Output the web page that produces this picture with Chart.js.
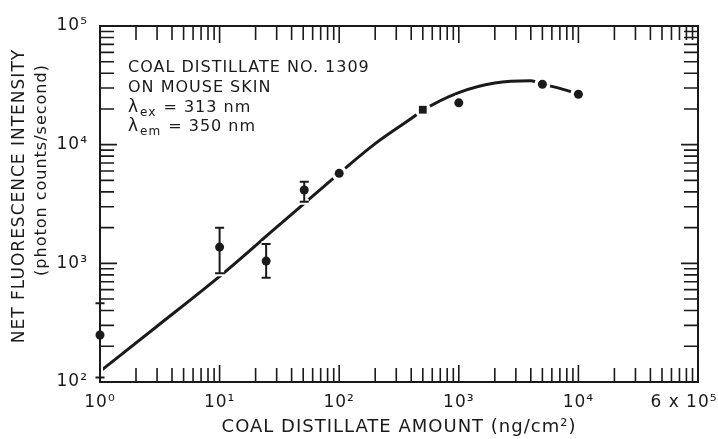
<!DOCTYPE html>
<html><head><meta charset="utf-8">
<script src="https://cdn.jsdelivr.net/npm/chart.js@4/dist/chart.umd.min.js"></script>
<style>html,body{margin:0;padding:0;background:#fff;}#wrap{width:718px;height:439px;}</style>
</head><body>
<div id="wrap"><canvas id="c" width="718" height="439"></canvas></div>
<script>
// ---- data ----
const xTickValues = [1, 10, 100, 1000, 10000, 100000];
const xTickLabels = ['10⁰', '10¹', '10²', '10³', '10⁴', '6 x 10⁵'];
const yTickValues = [100, 1000, 10000, 100000];
const yTickLabels = ['10²', '10³', '10⁴', '10⁵'];

const pointX = [1, 10, 24.5, 51, 100, 500, 1000, 5000, 10000];
const pointY = [249, 1370, 1045, 4150, 5730, 19700, 22500, 32300, 26600];
const errLow = [109, 824, 757, 3300, null, null, null, null, null];
const errHigh = [460, 1995, 1455, 4870, null, null, null, null, null];
const pointShapes = ['circle', 'circle', 'circle', 'circle', 'circle', 'rect', 'circle', 'circle', 'circle'];

const curveX = [1, 3, 10, 30, 50, 100, 200, 400, 500, 1000, 2000, 4000, 5000, 7000, 10000];
const curveY = [123, 295, 776, 2015, 3140, 5730, 10200, 16600, 19500, 27500, 33100, 34600, 32400, 29800, 26700];

const annotationLines = ['COAL DISTILLATE NO. 1309', 'ON MOUSE SKIN'];
const lambdaLines = [['ex', ' = 313 nm'], ['em', ' = 350 nm']];
const yTitleLines = ['NET FLUORESCENCE INTENSITY', '(photon counts/second)'];
const xTitle = 'COAL DISTILLATE AMOUNT (ng/cm²)';

// ---- drawing ----
const INK = '#1a1a1a';
const FONT = "'DejaVu Sans', sans-serif";
const TICK_FONT = 17;

const spacing = {
  id: 'spacing',
  beforeUpdate(chart) { chart.ctx.letterSpacing = '1px'; },
  beforeDraw(chart) { chart.ctx.letterSpacing = '1px'; }
};

const decor = {
  id: 'decor',
  afterDatasetDraw(chart, args) {
    if (args.index !== 0) return;
    const { ctx, scales: { x, y } } = chart;
    ctx.save();
    ctx.fillStyle = '#fff';
    pointX.forEach((v, i) => {
      ctx.beginPath();
      ctx.arc(x.getPixelForValue(v), y.getPixelForValue(pointY[i]), 8, 0, Math.PI * 2);
      ctx.fill();
    });
    pointX.forEach((v, i) => {
      if (errLow[i] == null) return;
      const px = x.getPixelForValue(v), yl = y.getPixelForValue(errLow[i]), yh = y.getPixelForValue(errHigh[i]);
      const path = () => {
        ctx.beginPath();
        ctx.moveTo(px, yl); ctx.lineTo(px, yh);
        ctx.moveTo(px - 4.5, yl); ctx.lineTo(px + 4.5, yl);
        ctx.moveTo(px - 4.5, yh); ctx.lineTo(px + 4.5, yh);
      };
      ctx.strokeStyle = '#fff'; ctx.lineWidth = 6; path(); ctx.stroke();
      ctx.strokeStyle = INK; ctx.lineWidth = 2; path(); ctx.stroke();
    });
    ctx.restore();
  },
  afterDraw(chart) {
    const { ctx, chartArea: a, scales: { x, y } } = chart;
    ctx.save();
    ctx.strokeStyle = INK;
    ctx.fillStyle = INK;
    ctx.lineWidth = 2;
    ctx.strokeRect(a.left, a.top, a.right - a.left, a.bottom - a.top);
    ctx.lineWidth = 1.6;
    ctx.beginPath();
    for (let k = 0; k <= 5; k++) {
      for (let m = 1; m <= 9; m++) {
        const v = m * Math.pow(10, k);
        if (v > x.max * 1.0001) break;
        const px = x.getPixelForValue(v);
        const len = m === 1 ? 17 : 14;
        ctx.moveTo(px, a.bottom); ctx.lineTo(px, a.bottom - len);
        ctx.moveTo(px, a.top); ctx.lineTo(px, a.top + len);
      }
    }
    for (let k = 2; k <= 5; k++) {
      for (let m = 1; m <= 9; m++) {
        const v = m * Math.pow(10, k);
        if (v > y.max * 1.0001) break;
        const py = y.getPixelForValue(v);
        const len = m === 1 ? 17 : 14;
        ctx.moveTo(a.left, py); ctx.lineTo(a.left + len, py);
        ctx.moveTo(a.right, py); ctx.lineTo(a.right - len, py);
      }
    }
    ctx.stroke();

    // last x tick label (offset left as in the original figure)
    ctx.letterSpacing = '1px';
    ctx.font = TICK_FONT + 'px ' + FONT;
    ctx.textAlign = 'center';
    ctx.textBaseline = 'middle';
    const last = xTickValues.length - 1;
    ctx.fillText(xTickLabels[last], x.getPixelForValue(xTickValues[last]) - 14, x.top + 8 + 2 + TICK_FONT * 0.6);

    // annotation
    ctx.textAlign = 'left';
    ctx.textBaseline = 'alphabetic';
    const ax = a.left + 28;
    ctx.font = '16px ' + FONT;
    annotationLines.forEach((t, i) => ctx.fillText(t, ax, a.top + 46 + i * 20));
    lambdaLines.forEach((parts, i) => {
      const by = a.top + 86 + i * 19;
      ctx.font = '17px ' + FONT;
      ctx.fillText('λ', ax, by);
      let cx = ax + ctx.measureText('λ').width + 1;
      ctx.font = '12px ' + FONT;
      ctx.fillText(parts[0], cx, by + 4);
      cx += ctx.measureText(parts[0]).width + 1;
      ctx.font = '16px ' + FONT;
      ctx.fillText(parts[1], cx, by);
    });

    // y-axis title (two offset lines as in the original)
    ctx.textAlign = 'center';
    ctx.textBaseline = 'middle';
    ctx.save();
    ctx.translate(20, 196);
    ctx.rotate(-Math.PI / 2);
    ctx.font = '17px ' + FONT;
    ctx.fillText(yTitleLines[0], 0, 0);
    ctx.restore();
    ctx.save();
    ctx.translate(42, 170);
    ctx.rotate(-Math.PI / 2);
    ctx.font = '16px ' + FONT;
    ctx.fillText(yTitleLines[1], 0, 0);
    ctx.restore();
    ctx.restore();
  }
};

new Chart(document.getElementById('c'), {
  type: 'scatter',
  data: {
    datasets: [
      {
        label: 'fit',
        data: curveX.map((v, i) => ({ x: v, y: curveY[i] })),
        showLine: true,
        borderColor: INK,
        borderWidth: 3,
        pointRadius: 0,
        cubicInterpolationMode: 'monotone',
        order: 2
      },
      {
        label: 'measured',
        data: pointX.map((v, i) => ({ x: v, y: pointY[i] })),
        pointStyle: pointShapes,
        pointRadius: pointShapes.map(s => s === 'rect' ? 5.5 : 4.5),
        backgroundColor: INK,
        borderColor: INK,
        borderWidth: 0,
        clip: false,
        order: 0
      }
    ]
  },
  options: {
    responsive: false,
    devicePixelRatio: 1,
    animation: false,
    events: [],
    layout: { padding: { top: 26, right: 20, left: 0, bottom: 0 } },
    plugins: { legend: { display: false }, tooltip: { enabled: false } },
    scales: {
      x: {
        type: 'logarithmic',
        min: 1, max: 100000,
        afterBuildTicks: s => { s.ticks = xTickValues.map(v => ({ value: v })); },
        afterFit: s => { s.height = 57; },
        grid: { display: false },
        border: { display: false },
        ticks: {
          autoSkip: false, maxRotation: 0, padding: 2, color: INK,
          font: { family: FONT, size: TICK_FONT },
          callback: (v, i) => (i === xTickValues.length - 1 ? '' : xTickLabels[i])
        },
        title: {
          display: true, text: xTitle, color: INK,
          font: { family: FONT, size: 18 },
          padding: { top: 0, bottom: 1 }
        }
      },
      y: {
        type: 'logarithmic',
        min: 100, max: 100000,
        afterBuildTicks: s => { s.ticks = yTickValues.map(v => ({ value: v })); },
        afterFit: s => { s.width = 100; },
        grid: { display: false },
        border: { display: false },
        ticks: {
          autoSkip: false, padding: 4, color: INK,
          font: { family: FONT, size: TICK_FONT },
          callback: (v, i) => yTickLabels[i]
        }
      }
    }
  },
  plugins: [spacing, decor]
});
</script>
</body></html>
